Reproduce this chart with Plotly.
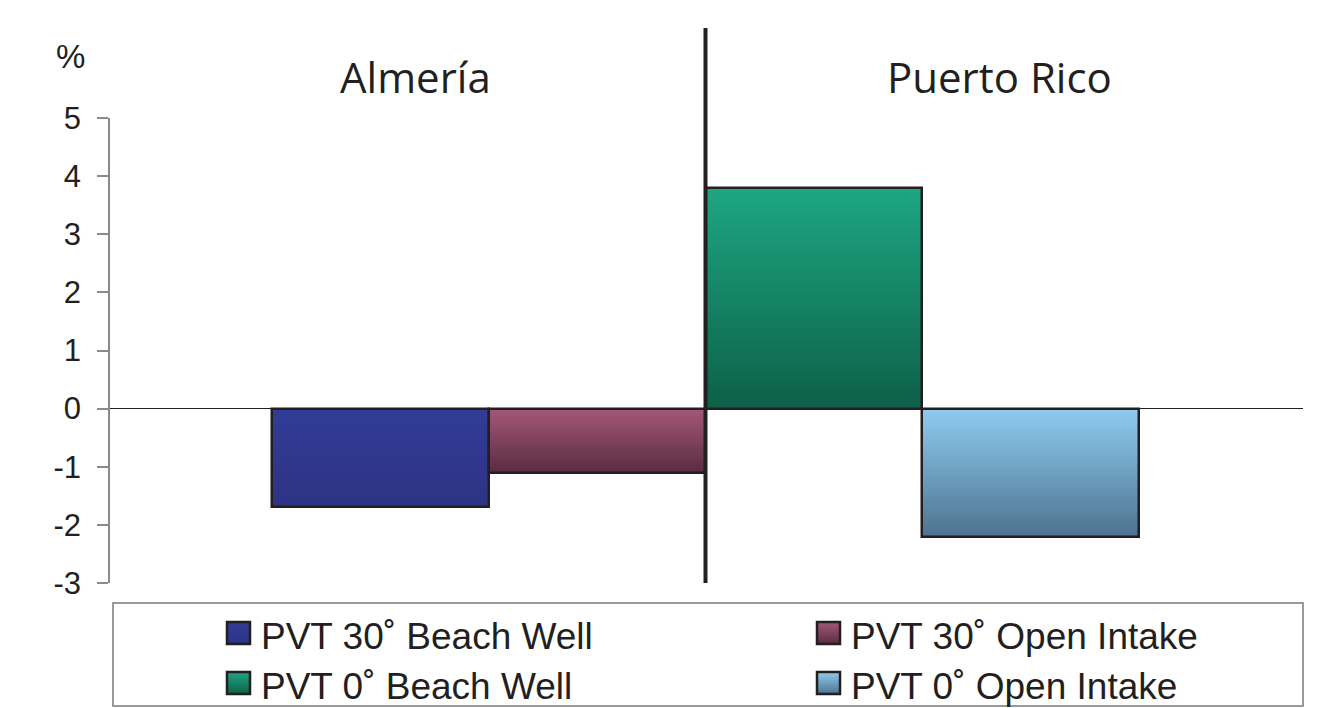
import plotly.graph_objects as go

# --- data -------------------------------------------------------------
sites = ["Almería", "Puerto Rico"]
series_names = ["PVT 30˚ Beach Well", "PVT 30˚ Open Intake",
                "PVT 0˚ Beach Well", "PVT 0˚ Open Intake"]
series_site = ["Almería", "Almería", "Puerto Rico", "Puerto Rico"]
series_values = [-1.7, -1.1, 3.8, -2.2]
y_ticks = [-3, -2, -1, 0, 1, 2, 3, 4, 5]
y_tick_text = ["-3", "-2", "-1", "0", "1", "2", "3", "4", "5"]

# --- styling ----------------------------------------------------------
# top / bottom colours of each bar's vertical gradient
grad_top = ["#303c95", "#a35779", "#1da783", "#8fccf0"]
grad_bot = ["#2e3384", "#5a2b43", "#0d6048", "#4d7390"]
bar_offset = [-0.5, 0.0, -0.5, 0.0]
bar_width = 0.5
N_SLICES = 60
INK = "#231f20"
AXIS_GREY = "#8a8a8a"

PLOT_L, PLOT_R, PLOT_T, PLOT_B = 110, 1303, 118, 583
W, H = 1327, 708


def px_x(p):
    return (p - PLOT_L) / (PLOT_R - PLOT_L)


def px_y(p):
    return (PLOT_B - p) / (PLOT_B - PLOT_T)


def hex_rgb(h):
    h = h.lstrip("#")
    return tuple(int(h[i:i + 2], 16) for i in (0, 2, 4))


def mix(c1, c2, t):
    a, b = hex_rgb(c1), hex_rgb(c2)
    r = [round(a[k] + (b[k] - a[k]) * t) for k in range(3)]
    return "rgb({},{},{})".format(*r)


fig = go.Figure()

# gradient fill: each slice runs from its start to the bar end, later slices
# painted over earlier ones so no seams appear between bands
for name, site, v, top, bot, off in zip(series_names, series_site, series_values,
                                        grad_top, grad_bot, bar_offset):
    bases, heights, colors = [], [], []
    for i in range(N_SLICES):
        f0 = i / N_SLICES
        bases.append(v * f0)
        heights.append(v * (1 - f0))
        fc = (i + 0.5) / N_SLICES
        t = fc if v < 0 else 1 - fc  # fraction from visual top edge
        colors.append(mix(top, bot, t))
    fig.add_trace(go.Bar(
        x=[site] * N_SLICES, y=heights, base=bases,
        offset=off, width=bar_width,
        marker=dict(color=colors, line=dict(width=0)),
        showlegend=False, hoverinfo="skip",
    ))

# bar outlines
for name, site, v, off in zip(series_names, series_site, series_values, bar_offset):
    fig.add_trace(go.Bar(
        x=[site], y=[v], offset=off, width=bar_width, name=name,
        marker=dict(color="rgba(0,0,0,0)", line=dict(color=INK, width=2.5)),
        showlegend=False,
    ))

shapes = []
annotations = []

# divider between the two sites
shapes.append(dict(type="line", xref="x", yref="paper", x0=0.5, x1=0.5,
                   y0=0, y1=px_y(28), line=dict(color=INK, width=4)))

# site titles
for label, cx in zip(sites, [415, 999]):
    annotations.append(dict(text=label, xref="paper", yref="paper",
                            x=px_x(cx), y=px_y(76), xanchor="center", yanchor="middle",
                            showarrow=False,
                            font=dict(family="Open Sans, Lato, sans-serif", size=42, color=INK)))

# unit label
annotations.append(dict(text="%", xref="paper", yref="paper", x=px_x(70), y=px_y(56),
                        xanchor="center", yanchor="middle", showarrow=False,
                        font=dict(family="Liberation Sans, Arial, sans-serif",
                                  size=33, color=INK)))

# legend box
shapes.append(dict(type="rect", xref="paper", yref="paper",
                   x0=px_x(113), x1=px_x(1303), y0=px_y(706), y1=px_y(603),
                   line=dict(color="#7a7a7a", width=1.5), fillcolor="rgba(0,0,0,0)"))

legend_pos = [(227, 622), (817, 622), (227, 672), (817, 672)]
SW, SH = 23, 22
for name, top, bot, (sx, sy) in zip(series_names, grad_top, grad_bot, legend_pos):
    strips = 11
    # overlapping bands, each reaching the swatch bottom, keep the fill seamless
    for k in range(strips):
        y0 = sy + SH * k / strips
        shapes.append(dict(type="rect", xref="paper", yref="paper",
                           x0=px_x(sx), x1=px_x(sx + SW), y0=px_y(sy + SH), y1=px_y(y0),
                           line=dict(width=0), fillcolor=mix(top, bot, (k + 0.5) / strips)))
    shapes.append(dict(type="rect", xref="paper", yref="paper",
                       x0=px_x(sx), x1=px_x(sx + SW), y0=px_y(sy + SH), y1=px_y(sy),
                       line=dict(color=INK, width=2.5), fillcolor="rgba(0,0,0,0)"))
    annotations.append(dict(text=name, xref="paper", yref="paper",
                            x=px_x(sx + SW + 9), y=px_y(sy + 14),
                            xanchor="left", yanchor="middle", showarrow=False,
                            font=dict(family="Liberation Sans, Arial, sans-serif",
                                      size=37, color=INK)))

fig.update_layout(
    width=W, height=H,
    margin=dict(l=PLOT_L, r=W - PLOT_R, t=PLOT_T, b=H - PLOT_B, autoexpand=False),
    paper_bgcolor="white", plot_bgcolor="white",
    barmode="overlay", bargap=0,
    shapes=shapes, annotations=annotations,
    xaxis=dict(type="category", categoryorder="array", categoryarray=sites,
               range=[-0.8737, 1.8783], showticklabels=False, showline=False,
               showgrid=False, zeroline=False, ticks=""),
    yaxis=dict(range=[-3, 5], tickvals=y_ticks, ticktext=y_tick_text,
               showgrid=False, showline=True, linecolor=AXIS_GREY, linewidth=1.5,
               ticks="outside", ticklen=11, tickwidth=1.5, tickcolor=AXIS_GREY,
               ticklabelstandoff=10,
               zeroline=True, zerolinecolor=INK, zerolinewidth=1,
               tickfont=dict(family="Liberation Sans, Arial, sans-serif",
                             size=31, color=INK)),
    showlegend=False,
)

fig.write_html("out.html")
